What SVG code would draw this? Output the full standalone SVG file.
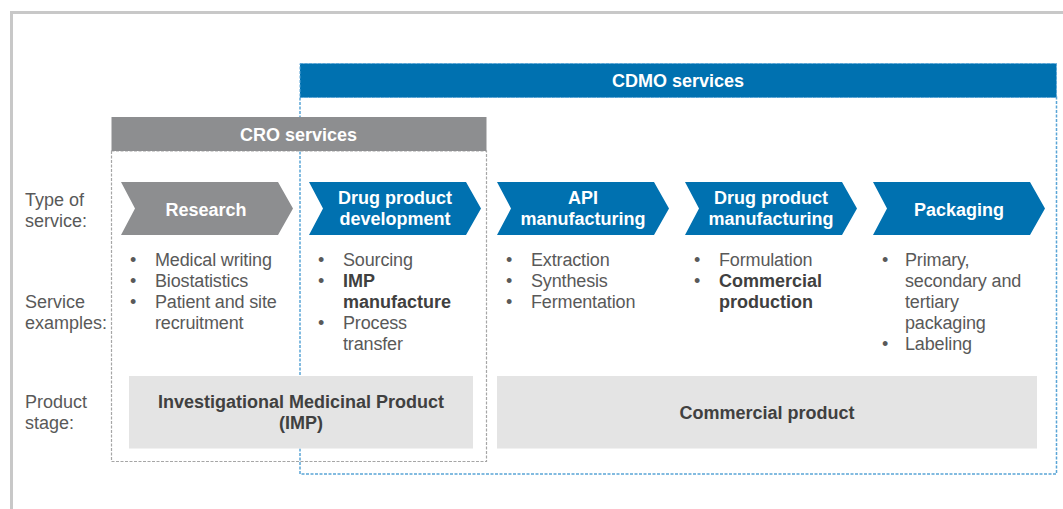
<svg xmlns="http://www.w3.org/2000/svg" width="1063" height="509" viewBox="0 0 1063 509">
<style>
text{font-family:"Liberation Sans",Arial,sans-serif;font-size:18px}
.lbl{fill:#595959}
.reg{fill:#595959;letter-spacing:-0.15px}
.bld{fill:#404040;font-weight:bold}
.wht{fill:#ffffff;font-weight:bold;text-anchor:middle}
.prod{fill:#404040;font-weight:bold;text-anchor:middle}
.blue{fill:#0071b0}
.grey{fill:#8d8e90}
.box{fill:#e4e4e4}
</style>
<rect x="11.5" y="12.5" width="1100" height="600" fill="#ffffff" stroke="#c8c8c8" stroke-width="3"/>

<g id="cdmo">
<rect x="300" y="97" width="756.5" height="377" fill="none" stroke="#5aa5d6" stroke-width="1.5" stroke-dasharray="3 1.5"/>
<rect class="blue" x="300" y="63.5" width="756.5" height="34"/>
<rect x="300" y="63.5" width="756.5" height="34" fill="none" stroke="#5aa5d6" stroke-width="1" stroke-dasharray="3 1.5"/>
<text class="wht" x="678" y="87">CDMO services</text>
</g>

<g id="cro">
<rect x="111.5" y="151" width="375" height="310.5" fill="none" stroke="#a6a6a6" stroke-width="1.2" stroke-dasharray="3 1.5"/>
<rect class="grey" x="111.5" y="117" width="375" height="34"/>
<text class="wht" x="298.5" y="141">CRO services</text>
</g>

<g id="row-labels">
<text class="lbl" x="25" y="206">Type of</text>
<text class="lbl" x="25" y="227">service:</text>
<text class="lbl" x="25" y="308">Service</text>
<text class="lbl" x="25" y="329">examples:</text>
<text class="lbl" x="25" y="408">Product</text>
<text class="lbl" x="25" y="429">stage:</text>
</g>

<g id="research">
<polygon class="grey" points="121,182 278,182 293,208.5 278,235 121,235 135,208.5"/>
<text class="wht" x="206" y="216">Research</text>
<text class="lbl" x="130" y="266">•</text><text class="reg" x="155" y="266">Medical writing</text>
<text class="lbl" x="130" y="287">•</text><text class="reg" x="155" y="287">Biostatistics</text>
<text class="lbl" x="130" y="308">•</text><text class="reg" x="155" y="308">Patient and site</text>
<text class="reg" x="155" y="329">recruitment</text>
</g>

<g id="drug-product-development">
<polygon class="blue" points="309,182 466,182 481,208.5 466,235 309,235 323,208.5"/>
<text class="wht" x="395" y="204">Drug product</text>
<text class="wht" x="395" y="225">development</text>
<text class="lbl" x="318" y="266">•</text><text class="reg" x="343" y="266">Sourcing</text>
<text class="lbl" x="318" y="287">•</text><text class="bld" x="343" y="287">IMP</text>
<text class="bld" x="343" y="308">manufacture</text>
<text class="lbl" x="318" y="329">•</text><text class="reg" x="343" y="329">Process</text>
<text class="reg" x="343" y="350">transfer</text>
</g>

<g id="api-manufacturing">
<polygon class="blue" points="497,182 654,182 669,208.5 654,235 497,235 511,208.5"/>
<text class="wht" x="583" y="204">API</text>
<text class="wht" x="583" y="225">manufacturing</text>
<text class="lbl" x="506" y="266">•</text><text class="reg" x="531" y="266">Extraction</text>
<text class="lbl" x="506" y="287">•</text><text class="reg" x="531" y="287">Synthesis</text>
<text class="lbl" x="506" y="308">•</text><text class="reg" x="531" y="308">Fermentation</text>
</g>

<g id="drug-product-manufacturing">
<polygon class="blue" points="685,182 842,182 857,208.5 842,235 685,235 699,208.5"/>
<text class="wht" x="771" y="204">Drug product</text>
<text class="wht" x="771" y="225">manufacturing</text>
<text class="lbl" x="694" y="266">•</text><text class="reg" x="719" y="266">Formulation</text>
<text class="lbl" x="694" y="287">•</text><text class="bld" x="719" y="287">Commercial</text>
<text class="bld" x="719" y="308">production</text>
</g>

<g id="packaging">
<polygon class="blue" points="873,182 1030,182 1045,208.5 1030,235 873,235 887,208.5"/>
<text class="wht" x="959" y="216">Packaging</text>
<text class="lbl" x="882" y="266">•</text><text class="reg" x="905" y="266">Primary,</text>
<text class="reg" x="905" y="287">secondary and</text>
<text class="reg" x="905" y="308">tertiary</text>
<text class="reg" x="905" y="329">packaging</text>
<text class="lbl" x="882" y="350">•</text><text class="reg" x="905" y="350">Labeling</text>
</g>

<g id="imp-stage">
<rect class="box" x="129" y="376" width="344" height="72.5"/>
<text class="prod" x="301" y="408">Investigational Medicinal Product</text>
<text class="prod" x="301" y="429">(IMP)</text>
</g>

<g id="commercial-stage">
<rect class="box" x="497" y="376" width="540" height="72.5"/>
<text class="prod" x="767" y="418.5">Commercial product</text>
</g>

<g id="connectors"></g>
</svg>
